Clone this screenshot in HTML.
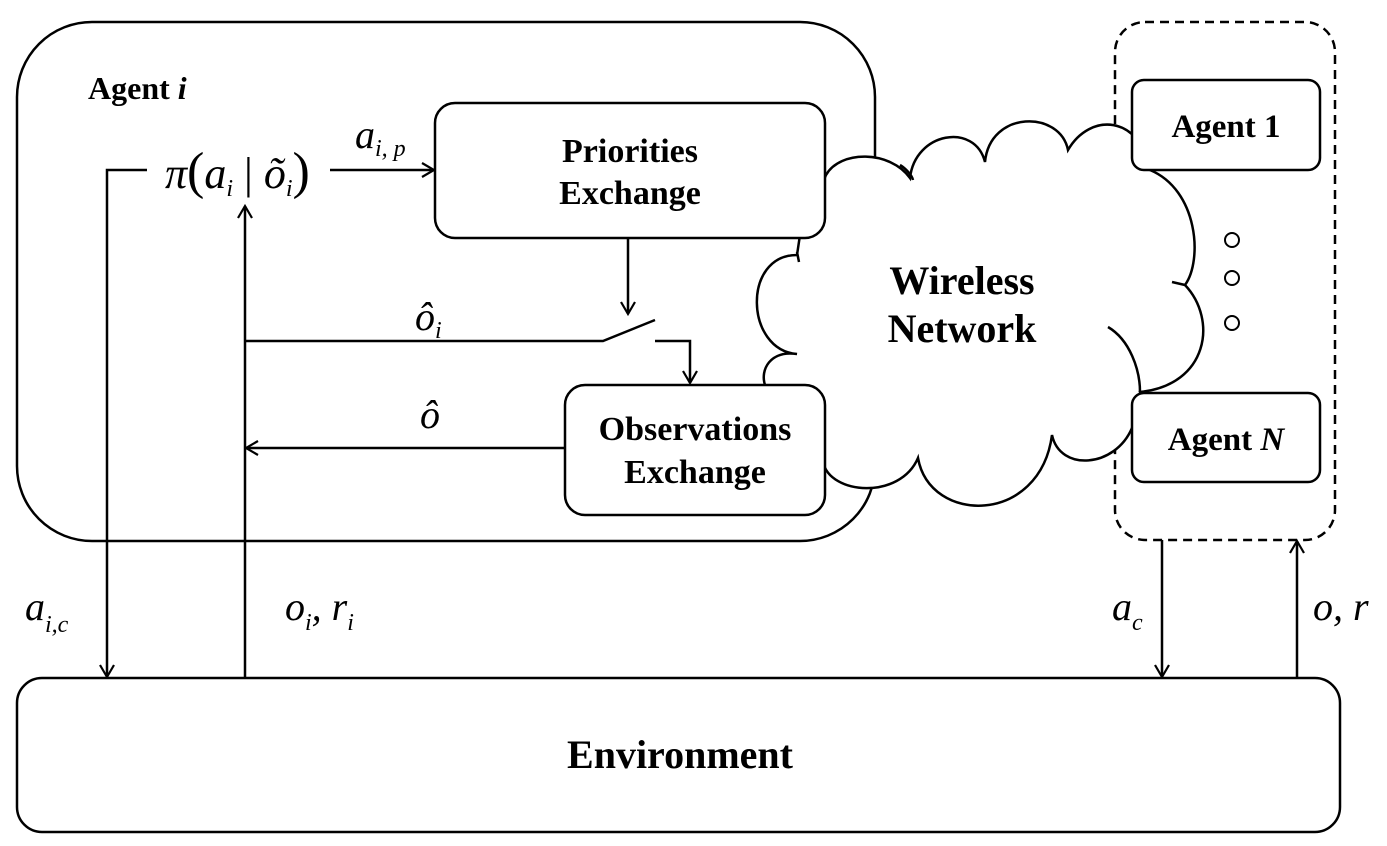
<!DOCTYPE html>
<html><head><meta charset="utf-8"><style>
html,body{margin:0;padding:0;background:#fff;}
svg{display:block;}
.b{font-family:"Liberation Serif",serif;font-weight:bold;fill:#000;}
.m{font-family:"Liberation Serif",serif;font-style:italic;fill:#000;}
</style></head><body>
<svg width="1387" height="846" viewBox="0 0 1387 846" xmlns="http://www.w3.org/2000/svg">
<defs>
<marker id="ah" markerWidth="16" markerHeight="16" refX="13" refY="8" orient="auto" markerUnits="userSpaceOnUse">
<path d="M1,1 L13,8 L1,15" fill="none" stroke="#000" stroke-width="2.2"/>
</marker>
</defs>
<g fill="none" stroke="#000" stroke-width="2.5">
<rect x="17" y="22" width="858" height="519" rx="75" fill="#fff"/>
<rect x="1115" y="22" width="220" height="518" rx="30" stroke-dasharray="9,6"/>
<path fill="#fff" d="M 826,175 C 840,150 890,150 910,178 C 915,132 975,122 985,162 C 990,110 1060,110 1068,150 C 1090,112 1140,115 1150,170 C 1198,190 1203,260 1185,285 C 1218,320 1208,385 1140,392 C 1145,415 1138,420 1132,428 C 1115,468 1060,472 1052,435 C 1040,525 930,525 918,458 C 900,500 830,495 823,462 L 765,385 C 760,370 770,350 797,354 C 745,350 742,255 797,255 L 800,235 Z"/>
<path d="M 1108,327 C 1130,340 1140,370 1140,392"/>
<path d="M 1172,282 L 1185,285"/>
<path d="M 797,252 L 799,262"/>
<path d="M 913,180 C 912,175 905,168 900,165"/>
<rect x="435" y="103" width="390" height="135" rx="20" fill="#fff"/>
<rect x="565" y="385" width="260" height="130" rx="20" fill="#fff"/>
<rect x="1132" y="80" width="188" height="90" rx="12" fill="#fff"/>
<rect x="1132" y="393" width="188" height="89" rx="12" fill="#fff"/>
<rect x="17" y="678" width="1323" height="154" rx="25" fill="#fff"/>
<circle cx="1232" cy="240" r="7" stroke-width="2"/>
<circle cx="1232" cy="278" r="7" stroke-width="2"/>
<circle cx="1232" cy="323" r="7" stroke-width="2"/>
<path d="M147,170 L107,170 L107,677" marker-end="url(#ah)"/>
<path d="M330,170 L434,170" marker-end="url(#ah)"/>
<path d="M245,678 L245,206" marker-end="url(#ah)"/>
<path d="M628,238 L628,314" marker-end="url(#ah)"/>
<path d="M245,341 L603,341 L655,320"/>
<path d="M655,341 L690,341 L690,383" marker-end="url(#ah)"/>
<path d="M565,448 L246,448" marker-end="url(#ah)"/>
<path d="M1162,540 L1162,677" marker-end="url(#ah)"/>
<path d="M1297,678 L1297,541" marker-end="url(#ah)"/>
</g>
<text class="b" x="88" y="99" font-size="32">Agent <tspan font-style="italic">i</tspan></text>
<text class="b" x="630" y="162" font-size="34" text-anchor="middle">Priorities</text>
<text class="b" x="630" y="204" font-size="34" text-anchor="middle">Exchange</text>
<text class="b" x="695" y="440" font-size="34" text-anchor="middle">Observations</text>
<text class="b" x="695" y="483" font-size="34" text-anchor="middle">Exchange</text>
<text class="b" x="962" y="294" font-size="40" text-anchor="middle">Wireless</text>
<text class="b" x="962" y="342" font-size="40" text-anchor="middle">Network</text>
<text class="b" x="1226" y="137" font-size="33" text-anchor="middle">Agent 1</text>
<text class="b" x="1226" y="450" font-size="33" text-anchor="middle">Agent <tspan font-style="italic">N</tspan></text>
<text class="b" x="680" y="768" font-size="40" text-anchor="middle">Environment</text>
<text class="m" x="165" y="188" font-size="44">π<tspan font-style="normal" font-size="52">(</tspan>a<tspan font-size="24" dy="8">i</tspan><tspan font-style="normal" dy="-8"> | </tspan>õ<tspan font-size="24" dy="8">i</tspan><tspan font-style="normal" font-size="52" dy="-8">)</tspan></text>
<text class="m" x="355" y="148" font-size="40">a<tspan font-size="24" dy="8">i, p</tspan></text>
<text class="m" x="415" y="330" font-size="40">ô<tspan font-size="24" dy="8">i</tspan></text>
<text class="m" x="420" y="428" font-size="40">ô</text>
<text class="m" x="25" y="620" font-size="40">a<tspan font-size="24" dy="12">i,c</tspan></text>
<text class="m" x="285" y="620" font-size="40">o<tspan font-size="24" dy="10">i</tspan><tspan dy="-10">, r</tspan><tspan font-size="24" dy="10">i</tspan></text>
<text class="m" x="1112" y="620" font-size="40">a<tspan font-size="24" dy="10">c</tspan></text>
<text class="m" x="1313" y="620" font-size="40">o, r</text>
</svg>
</body></html>
